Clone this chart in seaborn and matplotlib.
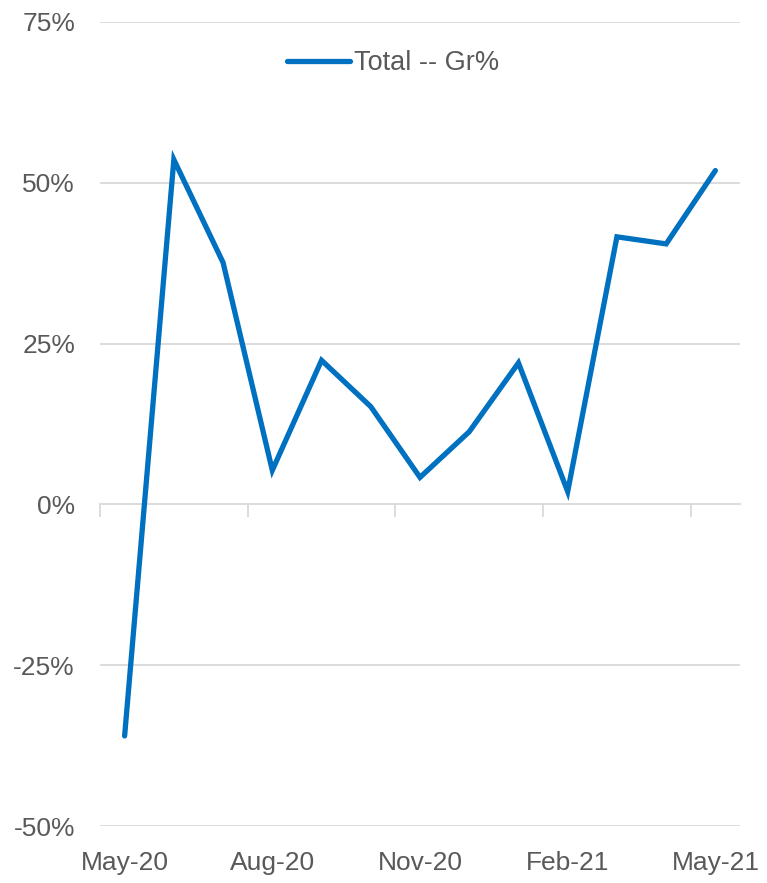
import numpy as np
import pandas as pd
import matplotlib
matplotlib.use("Agg")
import matplotlib.pyplot as plt
import seaborn as sns
from matplotlib.ticker import PercentFormatter

months = ["May-20", "Jun-20", "Jul-20", "Aug-20", "Sep-20", "Oct-20", "Nov-20",
          "Dec-20", "Jan-21", "Feb-21", "Mar-21", "Apr-21", "May-21"]
growth = [-36.0, 53.6, 37.6, 5.3, 22.4, 15.2, 4.2, 11.3, 22.0, 2.0, 41.6, 40.5, 51.9]
y_ticks = [-50, -25, 0, 25, 50, 75]
label_months = ["May-20", "Aug-20", "Nov-20", "Feb-21", "May-21"]

df = pd.DataFrame({"month": months, "pos": np.arange(len(months)), "growth": growth})

sns.set_theme(style="white")
plt.rcParams["font.family"] = ["Liberation Sans", "DejaVu Sans"]
plt.rcParams["axes.unicode_minus"] = False

grey_text = "#595959"
grid_col = "#D9D9D9"
blue = "#0070C0"

fig = plt.figure(figsize=(7.67, 8.83), dpi=100)
ax = fig.add_axes([100 / 767, 1 - 826 / 883, 640 / 767, (826 - 22) / 883])

sns.lineplot(data=df, x="pos", y="growth", ax=ax, color=blue, linewidth=3.8,
             label="Total -- Gr%", solid_capstyle="round", solid_joinstyle="miter")

ax.set_xlim(-0.5, len(months) - 0.5)
ax.set_ylim(-50, 75)
ax.set_yticks(y_ticks)
ax.yaxis.set_major_formatter(PercentFormatter(decimals=0))
for y in y_ticks:
    if y != 0:
        ax.axhline(y, color=grid_col, linewidth=1.3, zorder=0)

ax.set_xticks([months.index(m) for m in label_months])
ax.set_xticklabels(label_months)
ax.tick_params(axis="x", length=0, pad=18, labelsize=19, labelcolor=grey_text)
ax.tick_params(axis="y", length=0, pad=18, labelsize=19, labelcolor=grey_text)
for s in ax.spines.values():
    s.set_visible(False)
ax.set_xlabel("")
ax.set_ylabel("")

# category axis crossing at 0%
zero_frac = (0 - (-50)) / (75 - (-50))
sec = ax.secondary_xaxis(zero_frac)
sec.set_xticks(np.arange(-0.5, len(months), 3))
sec.set_xticklabels([])
sec.tick_params(axis="x", length=9, width=1.3, color=grid_col, direction="out")
sec.spines["bottom"].set_color(grid_col)
sec.spines["bottom"].set_linewidth(1.3)

leg = ax.legend(loc="upper center", bbox_to_anchor=(0.458, 0.995), frameon=False,
                fontsize=19.5, handlelength=2.3, handletextpad=0.15, labelcolor=grey_text)

fig.savefig("out.png", dpi=100)
